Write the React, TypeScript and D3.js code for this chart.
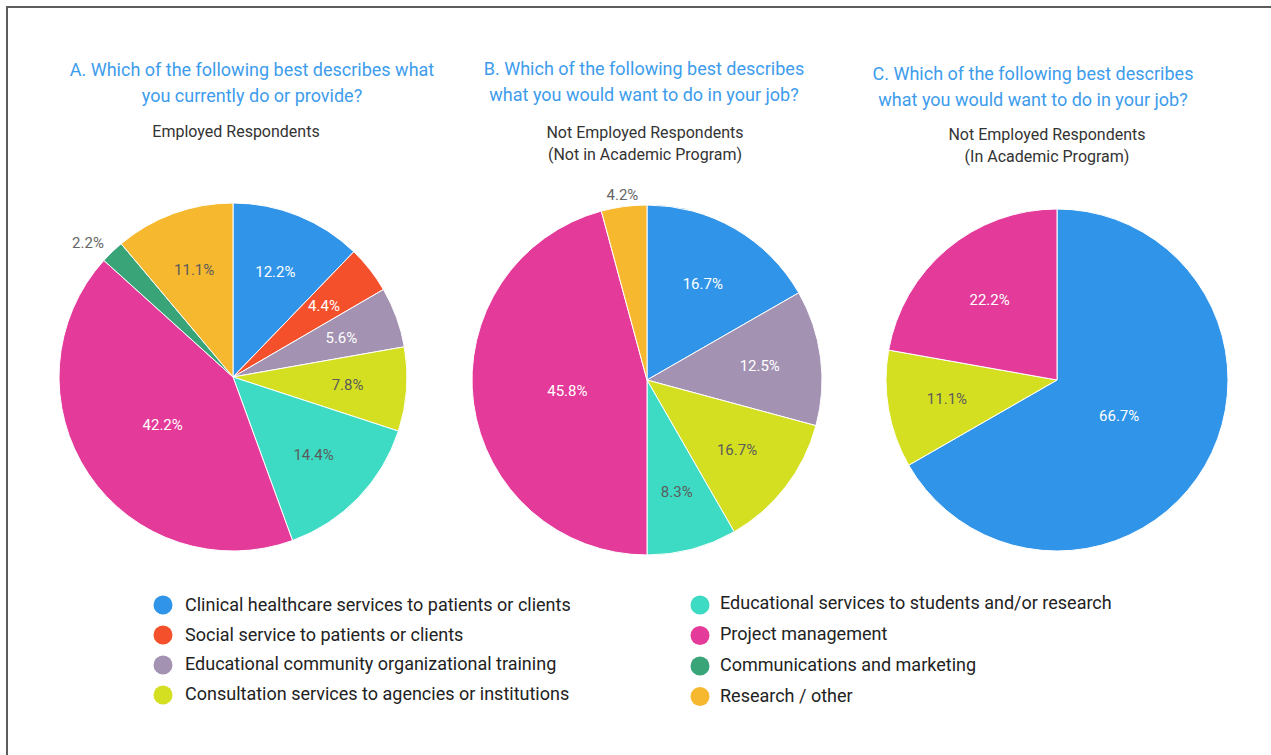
import React from 'react';
import * as d3 from 'd3';

const categories = [
  'Clinical healthcare services to patients or clients',
  'Social service to patients or clients',
  'Educational community organizational training',
  'Consultation services to agencies or institutions',
  'Educational services to students and/or research',
  'Project management',
  'Communications and marketing',
  'Research / other',
];
const colors = ['#3094e9', '#f5502c', '#a392b2', '#d5df22', '#3ddbc3', '#e43a9a', '#39a477', '#f5b82e'];
const labelOnLight = [false, false, false, true, true, false, true, true];

// Chart A – employed respondents
const pieACats = [0, 1, 2, 3, 4, 5, 6, 7];
const pieAValues = [12.2, 4.4, 5.6, 7.8, 14.4, 42.2, 2.2, 11.1];
const pieALabels = ['12.2%', '4.4%', '5.6%', '7.8%', '14.4%', '42.2%', '2.2%', '11.1%'];

// Chart B – not employed, not in academic program
const pieBCats = [0, 2, 3, 4, 5, 7];
const pieBValues = [16.7, 12.5, 12.5, 8.3, 45.8, 4.2];
const pieBLabels = ['16.7%', '12.5%', '16.7%', '8.3%', '45.8%', '4.2%'];

// Chart C – not employed, in academic program
const pieCCats = [0, 3, 5];
const pieCValues = [66.7, 11.1, 22.2];
const pieCLabels = ['66.7%', '11.1%', '22.2%'];

const titles = [
  ['A. Which of the following best describes what', 'you currently do or provide?'],
  ['B. Which of the following best describes', 'what you would want to do in your job?'],
  ['C. Which of the following best describes', 'what you would want to do in your job?'],
];
const subtitles = [
  ['Employed Respondents'],
  ['Not Employed Respondents', '(Not in Academic Program)'],
  ['Not Employed Respondents', '(In Academic Program)'],
];

const FONT = 'Roboto, "Noto Sans", sans-serif';

type PieProps = { cx: number; cy: number; r: number; cats: number[]; values: number[]; labels: string[] };

function Pie({ cx, cy, r, cats, values, labels }: PieProps) {
  const pie = d3.pie<number>().sort(null).value((d) => d);
  const arcs = pie(values);
  const arc = d3.arc<d3.PieArcDatum<number>>().innerRadius(0).outerRadius(r);
  return (
    <g transform={`translate(${cx},${cy})`}>
      {arcs.map((a, i) => (
        <path key={i} d={arc(a) || ''} fill={colors[cats[i]]} stroke="#fff" strokeWidth={1} />
      ))}
      {arcs.map((a, i) => {
        const mid = (a.startAngle + a.endAngle) / 2;
        const half = (a.endAngle - a.startAngle) / 2;
        const outside = values[i] < 4.3;
        let d: number;
        let anchor: 'start' | 'middle' | 'end' = 'middle';
        if (outside) {
          d = r + 12;
          const s = Math.sin(mid);
          if (s < -0.3) anchor = 'end';
          else if (s > 0.3) anchor = 'start';
        } else {
          d = (2 * r * Math.sin(half)) / (3 * half);
          d = Math.max(d, 0.42 * r);
        }
        const x = Math.sin(mid) * d;
        const y = -Math.cos(mid) * d;
        const fill = outside ? '#666' : labelOnLight[cats[i]] ? '#5b5b5b' : '#ffffff';
        return (
          <text key={'l' + i} x={x} y={y} dy="0.35em" textAnchor={anchor} fontSize={15} fill={fill} fontFamily={FONT}>
            {labels[i]}
          </text>
        );
      })}
    </g>
  );
}

export default function App() {
  const W = 1271;
  const H = 755;
  const titleX = [252, 644, 1033];
  const titleY = [76, 75, 80];
  const subX = [236, 645, 1047];
  const subY = [137, 138, 140];
  const legendLeft = [0, 1, 2, 3];
  const legendRight = [4, 5, 6, 7];
  return (
    <svg width={W} height={H} style={{ position: 'absolute', left: 0, top: 0, background: '#fff' }} fontFamily={FONT}>
      <rect x={0} y={0} width={W} height={H} fill="#fff" />
      <rect x={7} y={7} width={W + 20} height={H + 20} fill="none" stroke="#5c5c5c" strokeWidth={2} />
      {titles.map((t, k) => (
        <text key={'t' + k} x={titleX[k]} y={titleY[k]} textAnchor="middle" fontSize={18} fill="#3d9cec">
          {t.map((line, j) => (
            <tspan key={j} x={titleX[k]} dy={j === 0 ? 0 : 26}>{line}</tspan>
          ))}
        </text>
      ))}
      {subtitles.map((t, k) => (
        <text key={'s' + k} x={subX[k]} y={subY[k]} textAnchor="middle" fontSize={16} fill="#333">
          {t.map((line, j) => (
            <tspan key={j} x={subX[k]} dy={j === 0 ? 0 : 22}>{line}</tspan>
          ))}
        </text>
      ))}
      <Pie cx={233} cy={377} r={174} cats={pieACats} values={pieAValues} labels={pieALabels} />
      <Pie cx={647} cy={380} r={175} cats={pieBCats} values={pieBValues} labels={pieBLabels} />
      <Pie cx={1057} cy={380} r={171} cats={pieCCats} values={pieCValues} labels={pieCLabels} />
      {legendLeft.map((c, i) => (
        <g key={'ll' + c}>
          <circle cx={163} cy={605 + i * 30} r={9.5} fill={colors[c]} />
          <text x={185} y={605 + i * 29.5} dy="0.35em" fontSize={18} fill="#222">{categories[c]}</text>
        </g>
      ))}
      {legendRight.map((c, i) => (
        <g key={'lr' + c}>
          <circle cx={700} cy={605 + i * 30.5} r={9.5} fill={colors[c]} />
          <text x={720} y={603 + i * 31} dy="0.35em" fontSize={18} fill="#222">{categories[c]}</text>
        </g>
      ))}
    </svg>
  );
}
